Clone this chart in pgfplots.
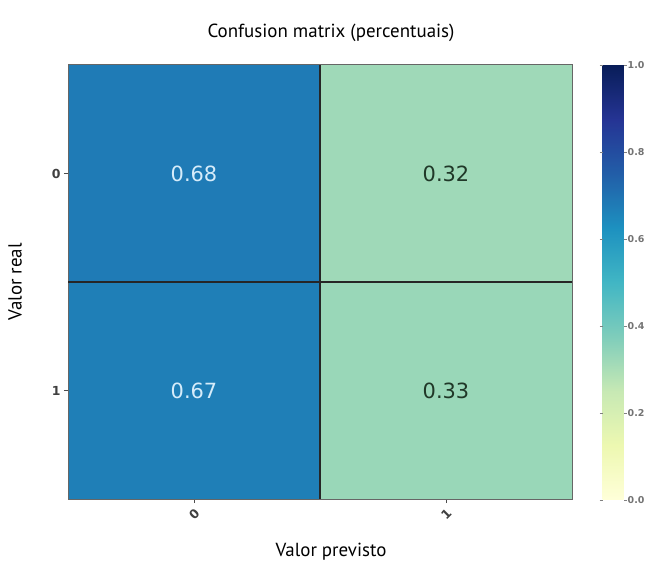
\documentclass[border=0pt]{standalone}
\usepackage{pgfplots}
\pgfplotsset{compat=1.18}
\usepackage{fontspec}
\setmainfont{PT Sans}
\newfontfamily\dejavu{DejaVu Sans}
\definecolor{annlight}{RGB}{214,236,250}
\definecolor{anndark}{RGB}{32,56,40}
\pgfplotsset{colormap={ylgnbu}{rgb255=(255,255,217) rgb255=(237,248,177) rgb255=(199,233,180) rgb255=(127,205,187) rgb255=(65,182,196) rgb255=(29,145,192) rgb255=(34,94,168) rgb255=(37,52,148) rgb255=(8,29,88)}}
\begin{document}
\begin{tikzpicture}
\useasboundingbox (0,0) rectangle (654bp,561bp);
\begin{axis}[
  /pgf/number format/assume math mode=true,
  at={(68bp,62bp)}, anchor=south west,
  width=504bp, height=434bp, scale only axis,
  xmin=-0.5, xmax=1.5, ymin=-0.5, ymax=1.5,
  xtick={0,1}, xticklabels={0,1},
  ytick={0,1}, yticklabels={1,0},
  tick align=outside, major tick length=4bp,
  tick style={black!70, line width=0.6pt},
  xtick pos=left, ytick pos=left,
  extra x ticks={0.5}, extra x tick labels={},
  extra y ticks={0.5}, extra y tick labels={},
  extra tick style={grid=major, major tick length=0pt, major grid style={line width=1.4pt, color=black!85}},
  axis line style={black!60, line width=1pt},
  axis on top,
  x tick label style={font=\dejavu\bfseries\fontsize{12.5}{14}\selectfont, text=black!75, rotate=45, anchor=north east},
  y tick label style={font=\dejavu\bfseries\fontsize{12.5}{14}\selectfont, text=black!75},
  colormap name=ylgnbu,
  point meta min=0, point meta max=1,
  colorbar,
  colorbar/width=21bp,
  colorbar style={
    /pgf/number format/assume math mode=true,
    scale only axis,
    width=21bp, height=435bp,
    at={(parent axis.south east)}, anchor=south west, xshift=22bp, yshift=-1bp,
    ytick={0,0.2,0.4,0.6,0.8,1},
    axis line style={draw=none},
    tick align=outside, major tick length=3bp,
    tick style={black!50, line width=0.6pt},
    yticklabel style={font=\dejavu\bfseries\fontsize{9.5}{11}\selectfont, text=black!55, inner sep=1bp,
      /pgf/number format/.cd, fixed, fixed zerofill, precision=1, assume math mode=true},
  },
  title={Confusion matrix (percentuais)},
  title style={font=\fontsize{19}{22}\selectfont, at={(0.5,1)}, anchor=center, yshift=26bp, xshift=11bp},
  xlabel={Valor previsto},
  xlabel style={font=\fontsize{19}{22}\selectfont, at={(0.5,0)}, anchor=center, yshift=-53bp, xshift=11bp},
  ylabel={Valor real},
  ylabel style={font=\fontsize{19}{22}\selectfont, at={(0,0.5)}, anchor=center, yshift=53bp},
]
\addplot[matrix plot*, point meta=explicit, mesh/cols=2] table[meta=c, row sep=\\] {
x y c\\
0 0 0.67\\
1 0 0.33\\
0 1 0.68\\
1 1 0.32\\
};
\addplot[draw=none, mark=none, nodes near coords, point meta=explicit symbolic,
  nodes near coords style={anchor=center, font=\dejavu\fontsize{21}{22}\selectfont, text=annlight}]
  table[meta=l, row sep=\\] {
x y l\\
0 1 0.68\\
0 0 0.67\\
};
\addplot[draw=none, mark=none, nodes near coords, point meta=explicit symbolic,
  nodes near coords style={anchor=center, font=\dejavu\fontsize{21}{22}\selectfont, text=anndark}]
  table[meta=l, row sep=\\] {
x y l\\
1 1 0.32\\
1 0 0.33\\
};
\end{axis}
\end{tikzpicture}
\end{document}
